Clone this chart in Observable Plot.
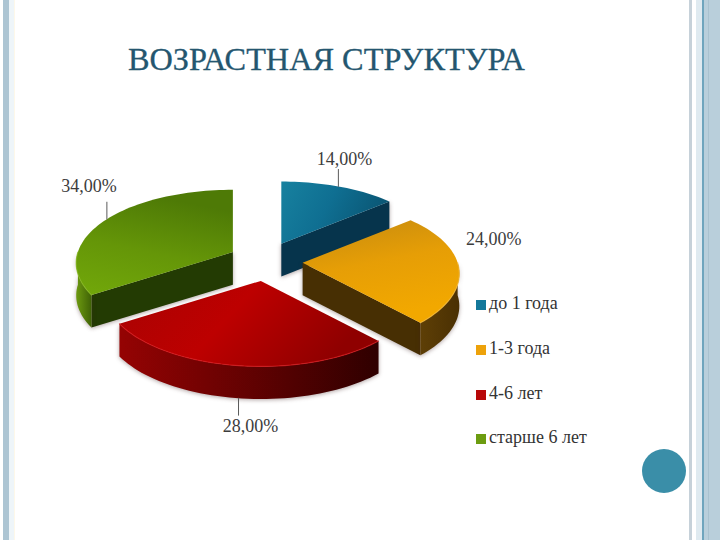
<!DOCTYPE html>
<html lang="ru"><head><meta charset="utf-8">
<script src="https://cdn.jsdelivr.net/npm/d3@7"></script>
<script src="https://cdn.jsdelivr.net/npm/@observablehq/plot@0.6"></script>
<style>
html,body{margin:0;padding:0;background:#fff;width:720px;height:540px;overflow:hidden}
#page{position:relative;width:720px;height:540px;font-family:"Liberation Serif",serif}
.bar{position:absolute;top:0;height:540px}
#chart{position:absolute;left:0;top:0}
#title{position:absolute;left:128px;top:40px;font-size:32.3px;line-height:38px;color:#24566f;white-space:nowrap;margin:0;font-weight:normal;-webkit-text-stroke:.3px #24566f}
.leg{position:absolute;left:476px;height:20px;line-height:20px;font-size:18px;color:#333;white-space:nowrap}
.leg i{display:inline-block;width:10px;height:10px;margin-right:3px;vertical-align:-0.5px}
#dot{position:absolute;left:642px;top:449px;width:44px;height:44px;border-radius:50%;background:#3a8ea8}
.wedge{filter:drop-shadow(0 1px 2px rgba(60,30,30,.4))}
</style></head>
<body>
<div id="page">
<div class="bar" style="left:3px;width:6px;background:#adc5d3"></div>
<div class="bar" style="left:9px;width:5px;background:#eef5f9"></div>
<div class="bar" style="left:14px;width:1px;background:#fdf8ea"></div>
<div class="bar" style="left:689px;width:3px;background:#c6d1d9"></div>
<div class="bar" style="left:696px;width:6px;background:#dfeaf0"></div>
<div class="bar" style="left:702px;width:2px;background:#6fa5bd"></div>
<div class="bar" style="left:704px;width:16px;background:#b9cfdb"></div>
<div class="bar" style="left:708px;width:1px;background:#a9c2cf"></div>
<h1 id="title"></h1>
<div id="chart"></div>
<div id="legend"></div>
<div id="dot"></div>
</div>
<script>
const titleText = "ВОЗРАСТНАЯ СТРУКТУРА";
const categories = ["до 1 года", "1-3 года", "4-6 лет", "старше 6 лет"];
const shares = [14, 24, 28, 34];
const swatches = ["#14789a", "#eda20a", "#b80808", "#6c9c10"];

// styles per slice: top gradient stops, gradient direction, rim stops, cut-face colour
const topStops = [
  ["#17819f", "#0f6f92", "#0a5674"],
  ["#c48a10", "#e69e06", "#f2a800"],
  ["#a80303", "#bd0000", "#8f0000"],
  ["#4e7a06", "#659608", "#72a80a"]
];
const topDirs = [[1, 0.3], [0.3, 1], [1, 0.3], [-0.3, 1]];
const rimStops = [
  ["#0a3a50", "#082c40"],
  ["#5e3f06", "#4a3003"],
  ["#950303", "#2f0000"],
  ["#6d9a10", "#3f6206"]
];
const faceColors = ["#06344c", "#472f03", "", "#233b03"];
const highlight = ["#2a8fb0", "#f6bb3a", "#d8161a", "#86b820"];
const labelOffsets = [[6, -27], [35, -28], [12, 28], [-18, -33]];
const hasLeader = [true, false, true, true];

const UNIT = 155, CX = 265, CY = 261, EXPLODE_X = 0.24, EXPLODE_Y = 0.126, DEPTH = 0.21;
const rad = d => d * Math.PI / 180;
const total = d3.sum(shares);
let acc = 0;
const slices = shares.map((v, i) => {
  const a0 = acc / total * 360; acc += v; const a1 = acc / total * 360;
  const m = rad((a0 + a1) / 2);
  return {i, v, a0, a1, ox: Math.sin(m) * EXPLODE_X, oy: -Math.cos(m) * EXPLODE_Y, mid: (a0 + a1) / 2};
});
function rimPoint(s, deg, drop = 0) {
  const t = rad(deg), c = Math.cos(t);
  return {x: s.ox + Math.sin(t) * (1 - 0.15 * c), y: s.oy - c * (0.477 - 0.075 * c) + drop};
}
const apex = (s, drop = 0) => ({x: s.ox, y: s.oy + drop});
function arc(s, a, b, drop = 0) {
  const n = Math.max(2, Math.ceil((b - a) / 2));
  return d3.range(n + 1).map(k => rimPoint(s, a + (b - a) * k / n, drop));
}
const topFace = s => [apex(s), ...arc(s, s.a0, s.a1), apex(s)];
function rimRange(s) {
  const a = Math.max(s.a0, 90), b = Math.min(s.a1, 270);
  return a < b ? [a, b] : null;
}
function rimFace(s) {
  const r = rimRange(s);
  return r ? [...arc(s, r[0], r[1]), ...arc(s, r[0], r[1], DEPTH).reverse()] : null;
}
function cutFace(s) {
  const d = s.a1 < 180 ? s.a1 : s.a0 > 180 ? s.a0 : null;
  if (d === null) return null;
  return [apex(s), rimPoint(s, d), rimPoint(s, d, DEPTH), apex(s, DEPTH)];
}
function gradients() {
  const defs = d3.create("svg:defs");
  const add = (id, stops, [dx, dy]) => {
    const g = defs.append("linearGradient").attr("id", id)
      .attr("x1", dx < 0 ? -dx : 0).attr("y1", 0).attr("x2", dx < 0 ? 0 : dx).attr("y2", dy);
    stops.forEach((c, k) => g.append("stop").attr("offset", k / (stops.length - 1)).attr("stop-color", c));
  };
  topStops.forEach((st, i) => add("top" + i, st, topDirs[i]));
  rimStops.forEach((st, i) => add("rim" + i, st, [1, 0]));
  return defs.node();
}
const xy = {x: "x", y: "y"};
const marks = [gradients];
for (const s of slices) {
  const rim = rimFace(s), cut = cutFace(s), r = rimRange(s);
  if (cut) marks.push(Plot.line(cut, {...xy, fill: faceColors[s.i], stroke: "none", className: "wedge"}));
  if (rim) marks.push(Plot.line(rim, {...xy, fill: `url(#rim${s.i})`, stroke: "none", className: "wedge"}));
  marks.push(Plot.line(topFace(s), {...xy, fill: `url(#top${s.i})`, stroke: "none"}));
  if (r) marks.push(Plot.line(arc(s, r[0], r[1]), {...xy, stroke: highlight[s.i], strokeWidth: 1.2, strokeOpacity: 0.7}));
}
// labels and leader lines, anchored on each slice's mid-angle
for (const s of slices) {
  const isFront = s.mid > 150 && s.mid < 210;
  const p = rimPoint(s, s.mid, isFront ? DEPTH : 0);
  const [dx, dy] = labelOffsets[s.i];
  marks.push(Plot.text([p], {...xy, text: () => s.v.toFixed(2).replace(".", ",") + "%", dx, dy,
    fontFamily: "Liberation Serif", fontSize: 18, fill: "#3c3c3c"}));
  if (hasLeader[s.i]) marks.push(Plot.line([p, {x: p.x, y: p.y + (isFront ? 1 : -1) * 17 / UNIT}], {...xy, stroke: "#5a5a5a", strokeWidth: 1}));
}
const chart = Plot.plot({
  width: 720, height: 540, margin: 0,
  style: {background: "transparent", overflow: "visible"},
  x: {domain: [-CX / UNIT, (720 - CX) / UNIT], range: [0, 720], axis: null},
  y: {domain: [-CY / UNIT, (540 - CY) / UNIT], range: [0, 540], axis: null},
  marks
});
document.getElementById("chart").append(chart);
document.getElementById("title").textContent = titleText;
const legendTops = [293, 338, 383, 427];
const legend = document.getElementById("legend");
categories.forEach((c, i) => {
  const d = document.createElement("div");
  d.className = "leg"; d.style.top = legendTops[i] + "px";
  d.innerHTML = `<i style="background:${swatches[i]}"></i>${c}`;
  legend.append(d);
});
</script>
</body></html>
